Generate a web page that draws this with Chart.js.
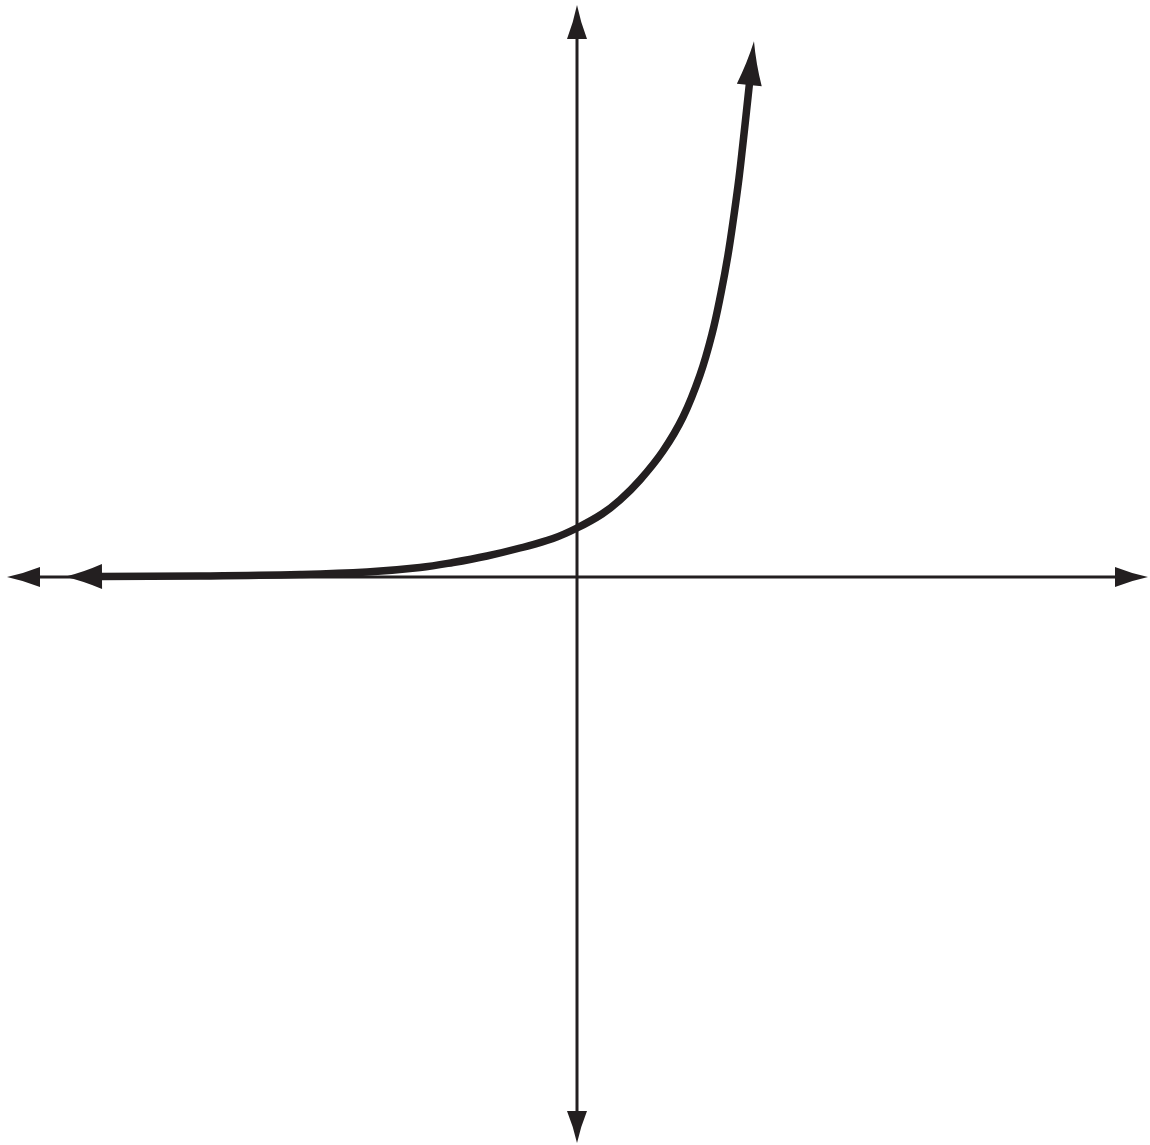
<!DOCTYPE html>
<html lang="en">

<head>
    <meta charset="UTF-8">
    <title>Exponential curve</title>
    <script src="https://cdn.jsdelivr.net/npm/chart.js@4"></script>
    <style>
        body { margin: 0; background: #fff; }
        #wrap { width: 1150px; height: 1145px; position: relative; }
    </style>
</head>

<body>
    <div id="wrap">
        <canvas id="myChart"></canvas>
    </div>

    <script>
        // curve points (1 unit = one grid step)
        const xValues = [-9.54, -7.54, -5.54, -4.2, -3.14, -2.48, -1.8, -1.14, -0.48, 0, 0.5, 0.86, 1.26, 1.72, 2.12, 2.46, 2.7, 2.88, 3.02, 3.14, 3.24, 3.32, 3.39, 3.45];
        const yValues = [0.01, 0.02, 0.05, 0.1, 0.19, 0.29, 0.42, 0.58, 0.77, 0.98, 1.26, 1.54, 1.94, 2.52, 3.2, 4.04, 4.86, 5.68, 6.44, 7.24, 7.98, 8.68, 9.32, 9.88];

        // where the axis arrows end
        const xAxisEnds = [-11.4, 11.42];
        const yAxisEnds = [-11.32, 11.44];

        const ink = '#231f20';

        function arrowHead(ctx, tx, ty, ux, uy, len, half) {
            const bx = tx - ux * len, by = ty - uy * len;
            const nx = -uy, ny = ux;
            const mx = tx - ux * len * 0.5, my = ty - uy * len * 0.5;
            ctx.beginPath();
            ctx.moveTo(tx, ty);
            ctx.quadraticCurveTo(mx + nx * half * 0.35, my + ny * half * 0.35, bx + nx * half, by + ny * half);
            ctx.lineTo(bx - nx * half, by - ny * half);
            ctx.quadraticCurveTo(mx - nx * half * 0.35, my - ny * half * 0.35, tx, ty);
            ctx.closePath();
            ctx.fillStyle = ink;
            ctx.fill();
        }

        const axesPlugin = {
            id: 'axes',
            beforeDatasetsDraw(chart) {
                const ctx = chart.ctx;
                const xs = chart.scales.x, ys = chart.scales.y;
                const ox = xs.getPixelForValue(0), oy = ys.getPixelForValue(0);
                const l = xs.getPixelForValue(xAxisEnds[0]), r = xs.getPixelForValue(xAxisEnds[1]);
                const b = ys.getPixelForValue(yAxisEnds[0]), t = ys.getPixelForValue(yAxisEnds[1]);
                ctx.save();
                ctx.strokeStyle = ink;
                ctx.lineWidth = 3;
                ctx.beginPath();
                ctx.moveTo(l + 10, oy); ctx.lineTo(r - 10, oy);
                ctx.moveTo(ox, t + 10); ctx.lineTo(ox, b - 10);
                ctx.stroke();
                arrowHead(ctx, l, oy, -1, 0, 33, 10);
                arrowHead(ctx, r, oy, 1, 0, 33, 10);
                arrowHead(ctx, ox, t, 0, -1, 34, 10);
                arrowHead(ctx, ox, b, 0, 1, 32, 10);
                ctx.restore();
            },
            afterDatasetsDraw(chart) {
                const ctx = chart.ctx;
                const pts = chart.getDatasetMeta(0).data;
                const n = pts.length;
                ctx.save();
                // left end
                let dx = pts[0].x - pts[1].x, dy = pts[0].y - pts[1].y;
                let d = Math.hypot(dx, dy);
                arrowHead(ctx, pts[0].x + dx / d * 35, pts[0].y + dy / d * 35, dx / d, dy / d, 37, 12.5);
                // top end
                dx = pts[n - 1].x - pts[n - 2].x; dy = pts[n - 1].y - pts[n - 2].y;
                d = Math.hypot(dx, dy);
                arrowHead(ctx, pts[n - 1].x + dx / d * 42, pts[n - 1].y + dy / d * 42, dx / d, dy / d, 44, 12.5);
                ctx.restore();
            }
        };

        const ctx = document.getElementById('myChart').getContext('2d');
        new Chart(ctx, {
            type: 'scatter',
            data: {
                datasets: [{
                    data: xValues.map((x, i) => ({ x: x, y: yValues[i] })),
                    showLine: true,
                    borderColor: ink,
                    borderWidth: 7.5,
                    borderCapStyle: 'butt',
                    pointRadius: 0,
                    tension: 0.4,
                    clip: false
                }]
            },
            options: {
                responsive: true,
                maintainAspectRatio: false,
                animation: false,
                layout: { padding: 0 },
                plugins: { legend: { display: false }, tooltip: { enabled: false } },
                scales: {
                    x: { type: 'linear', min: -11.54, max: 11.46, display: false },
                    y: { type: 'linear', min: -11.36, max: 11.54, display: false }
                }
            },
            plugins: [axesPlugin]
        });
    </script>
</body>

</html>
